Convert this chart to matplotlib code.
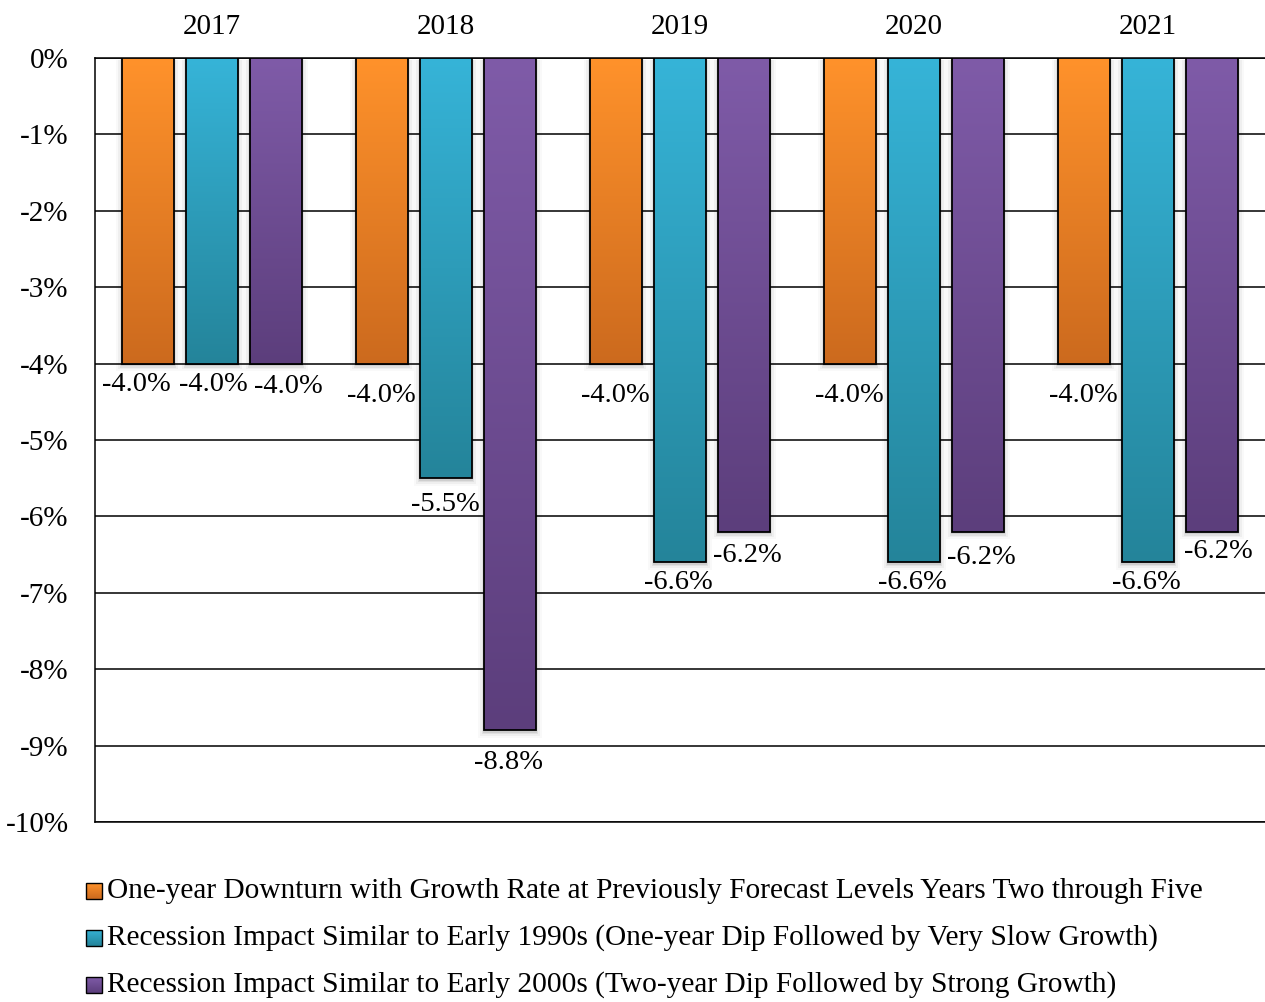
import numpy as np
import matplotlib
matplotlib.use("Agg")
import matplotlib.pyplot as plt
from matplotlib.patches import Rectangle
from matplotlib.colors import LinearSegmentedColormap

plt.rcParams["font.family"] = ["Liberation Serif", "DejaVu Serif"]

years = ["2017", "2018", "2019", "2020", "2021"]
series_names = [
    "One-year Downturn with Growth Rate at Previously Forecast Levels Years Two through Five",
    "Recession Impact Similar to Early 1990s (One-year Dip Followed by Very Slow Growth)",
    "Recession Impact Similar to Early 2000s (Two-year Dip Followed by Strong Growth)",
]
downturn = [-4.0, -4.0, -4.0, -4.0, -4.0]
early_1990s = [-4.0, -5.5, -6.6, -6.6, -6.6]
early_2000s = [-4.0, -8.8, -6.2, -6.2, -6.2]
y_ticks = [0, -1, -2, -3, -4, -5, -6, -7, -8, -9, -10]

# gradient (top, bottom) per series
grad_colors = [("#FF922B", "#CC6A1E"), ("#36B4D8", "#24849A"), ("#7F5BA8", "#5C3E7C")]

# label offsets in pixels (dx from bar centre, dy below bar end)
label_offsets = [
    [(-12, 21), (-1, 32), (-1, 32), (-1, 32), (-1, 32)],
    [(1, 21), (-1, 26), (-2, 20), (-2, 20), (-2, 20)],
    [(12, 23), (-1, 32), (3, 24), (3, 26), (6, 20)],
]

W, H = 1265, 1002
fig = plt.figure(figsize=(W / 100, H / 100), dpi=100)
ax_l, ax_r, ax_t, ax_b = 95, 1265, 58, 822
ax = fig.add_axes([ax_l / W, 1 - ax_b / H, (ax_r - ax_l) / W, (ax_b - ax_t) / H])
ax.set_xlim(-0.5, 4.5)
ax.set_ylim(-10, 0)

px_x = 5.0 / (ax_r - ax_l)
px_y = 10.0 / (ax_b - ax_t)

bar_w = 0.222
step = 0.2735
all_series = [downturn, early_1990s, early_2000s]

for si, vals in enumerate(all_series):
    top_c, bot_c = grad_colors[si]
    cmap = LinearSegmentedColormap.from_list(f"g{si}", [bot_c, top_c])
    for j, v in enumerate(vals):
        xc = j + (si - 1) * step
        x0 = xc - bar_w / 2
        # soft shadow
        for k, a in zip([6, 4, 2.5, 1.2], [0.025, 0.04, 0.06, 0.08]):
            ax.add_patch(Rectangle((x0 - k * px_x, v - (k + 1.5) * px_y),
                                   bar_w + 2 * k * px_x, -v + k * px_y,
                                   facecolor="black", edgecolor="none", alpha=a, zorder=2))
        rect = Rectangle((x0, v), bar_w, -v, facecolor="none",
                         edgecolor="black", linewidth=1.3, zorder=4)
        ax.add_patch(rect)
        grad = np.linspace(0, 1, 256).reshape(-1, 1)
        im = ax.imshow(grad, extent=[x0, x0 + bar_w, v, 0], origin="lower",
                       cmap=cmap, aspect="auto", zorder=3, interpolation="bilinear")
        im.set_clip_path(rect)
        dx, dy = label_offsets[si][j]
        ax.annotate(f"{v:.1f}%", (xc, v), xytext=(dx, -dy), textcoords="offset pixels",
                    ha="center", va="center", fontsize=20.5, zorder=5)

ax.set_xlim(-0.5, 4.5)
ax.set_ylim(-10, 0)

ax.set_yticks(y_ticks)
ax.set_yticklabels([f"{t}%" for t in y_ticks])
ax.yaxis.grid(True, color="black", linewidth=1.1, zorder=1)
ax.set_axisbelow(True)
ax.set_xticks(range(len(years)))
ax.set_xticklabels(years)
ax.xaxis.tick_top()
ax.tick_params(axis="both", length=0, labelsize=21)
ax.tick_params(axis="y", pad=19)
ax.tick_params(axis="x", pad=13)
for s in ["left", "top", "bottom"]:
    ax.spines[s].set_linewidth(1.1)
ax.spines["right"].set_visible(False)

# legend drawn in figure pixels
leg_rows = [891, 938, 985]
for si, name in enumerate(series_names):
    yc = leg_rows[si]
    top_c, bot_c = grad_colors[si]
    swatch = Rectangle((86 / W, 1 - (yc + 8) / H), 16 / W, 16 / H,
                       transform=fig.transFigure, facecolor="none",
                       edgecolor="black", linewidth=1.0, zorder=3)
    fig.patches.append(swatch)
    cmap = LinearSegmentedColormap.from_list(f"l{si}", [bot_c, top_c])
    lax = fig.add_axes([86 / W, 1 - (yc + 8) / H, 16 / W, 16 / H])
    lax.imshow(np.linspace(0, 1, 32).reshape(-1, 1), origin="lower", cmap=cmap,
               aspect="auto", extent=[0, 1, 0, 1])
    lax.axis("off")
    fig.text(107 / W, 1 - yc / H, name, ha="left", va="center", fontsize=21.15)

fig.savefig("out.png", dpi=100)
